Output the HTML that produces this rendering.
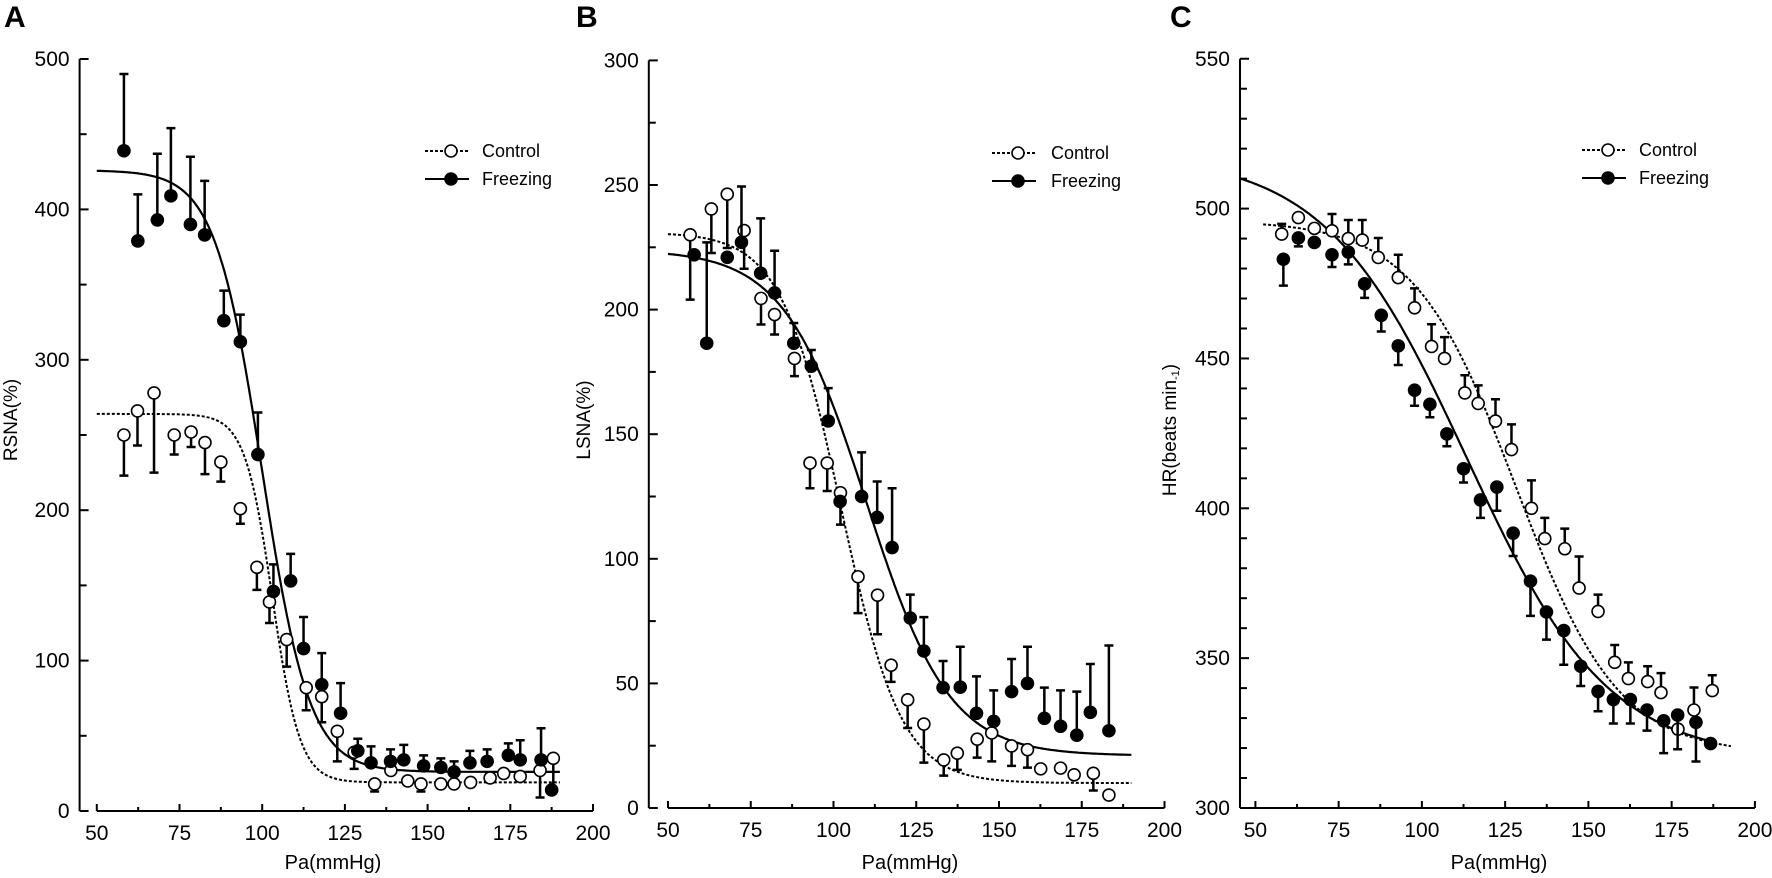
<!DOCTYPE html>
<html><head><meta charset="utf-8">
<style>
html,body{margin:0;padding:0;background:#fff;}
svg{display:block;}
text{font-family:"Liberation Sans",Arial,sans-serif;fill:#000;}
</style></head>
<body>
<svg id="fig" width="1772" height="878" viewBox="0 0 1772 878" xmlns="http://www.w3.org/2000/svg">
<text x="4" y="27" font-size="30" font-weight="bold">A</text>
<text x="576" y="27" font-size="30" font-weight="bold">B</text>
<text x="1170" y="27" font-size="30" font-weight="bold">C</text>
</svg>
<script>
// ---------- Panel A data (RSNA %) ----------
const aFrzX = [58.2,62.4,68.3,72.4,78.3,82.6,88.4,93.4,98.7,103.4,108.6,112.5,118,123.7,128.9,132.9,138.8,142.8,148.8,154,158,162.8,168,174.4,178,184.3,187.5];
const aFrzY = [439,379,393,409,390,383,326,312,237,146,153,108,84,65,40,32,33,34,30,29,26,32,33,37,34,34,14];
const aFrzErr = [490,410,437,454,435,419,346,330,265,164,171,129,105,85,48,43,41,44,37,35,33,40,41,45,47,55,null];
const aCtlX = [58.2,62.3,67.3,73.4,78.5,82.7,87.5,93.4,98.4,102.2,107.4,113.3,118,122.7,127.8,134,138.9,144,148,154,158,163,168.9,173,178,184,188];
const aCtlY = [250,266,278,250,252,245,232,201,162,139,114,82,76,53,39,18,27,20,18,18,18,19,22,25,23,27,35];
const aCtlErr = [223,243,225,237,242,224,219,191,147,125,96,67,59,33,28,13,null,null,13,null,null,null,null,null,null,9,15];
const aFrzFit = [426,26,100,0.14];   // max, min, x50, slope
const aCtlFit = [264,19,103.1,0.24];
const aYTicks = [0,100,200,300,400,500];
const aXTicks = [50,75,100,125,150,175,200];

// ---------- Panel B data (LSNA %) ----------
const bFrzX = [57.9,61.7,67.9,72.2,78,82.2,88,93.3,98.4,102,108.5,113.2,117.7,123.2,127.3,133.1,138.3,143.2,148.4,153.8,158.6,163.7,168.6,173.5,177.6,183.2];
const bFrzY = [222,186.5,221,227,214.6,206.7,186.5,177.3,155.3,123,125,116.6,104.5,76.2,63,48.3,48.5,38,34.8,46.7,50,36,32.8,29.2,38.4,31];
const bFrzErr = [null,227,null,249.4,236.6,223.6,194.6,183.8,168.5,null,142.7,131,128.3,85.6,76.6,59,64.7,52.8,47.2,59.8,64.7,48.3,47.2,46.7,57.8,65.2];
const bCtlX = [56.7,63.1,67.9,73,78.1,82.2,88.2,92.9,98.1,102.1,107.4,113.3,117.4,122.4,127.3,133.3,137.4,143.4,147.8,153.8,158.6,162.6,168.6,172.7,178.5,183.2];
const bCtlY = [230,240.4,246.3,231.7,204.5,198,180.4,138.4,138.4,126.5,92.8,85.4,57.3,43.4,33.7,19.3,22,27.6,30.1,24.9,23.4,15.7,16,13.3,13.9,5.2];
const bCtlErr = [204,222.7,224.7,216.4,194,190,173.3,128.3,127.2,113.7,78.2,69.7,50.6,32.1,18.2,13,15.3,20.2,18.7,16.9,16.2,null,null,null,7,null];
const bFrzFit = [224,21,110,0.08];
const bCtlFit = [231,10,102.3,0.11];
const bYTicks = [0,50,100,150,200,250,300];
const bXTicks = [50,75,100,125,150,175,200];

// ---------- Panel C data (HR beats/min) ----------
const cCtlX = [57.9,62.9,67.7,73,77.9,82.1,86.9,92.9,97.8,102.9,106.8,112.9,116.9,122.1,126.9,132.9,136.9,142.9,147.2,152.9,157.9,162,167.8,171.8,176.9,181.7,187.2];
const cCtlY = [491.5,497,493.4,492.6,490,489.5,483.7,477,466.9,454,450,438.5,435,429.1,419.6,400,389.9,386.5,373.4,365.6,348.6,343.2,342.2,338.5,326.3,332.7,339.2];
const cCtlErr = [494.9,null,null,498.2,496.2,496.2,490.2,484.6,473.4,461.4,457.1,444.4,441,436.4,428,409.3,396.8,393.2,383.9,371.2,354.4,348.6,347.3,345,null,340.2,344.3];
const cFrzX = [58.4,62.9,67.7,73,77.9,82.8,87.8,92.9,97.8,102.4,107.5,112.5,117.6,122.5,127.4,132.6,137.4,142.6,147.7,152.9,157.5,162.6,167.6,172.6,176.8,182.3,186.7];
const cFrzY = [483.1,490.2,488.7,484.6,485.5,474.9,464.4,454.2,439.4,434.7,424.8,413.2,402.8,407.1,391.7,375.7,365.4,359.2,347.3,338.9,336.2,336.2,332.7,329.1,331,328.6,321.5];
const cFrzErr = [474.3,487.4,null,480.5,481.4,470.2,459,447.8,434.2,430.4,420.7,408.6,396.8,399.2,384.1,364.1,356.2,347.8,340.7,332.3,328.2,328.2,325.8,318.3,319.6,315.5,null];
const cFrzFit = [518,316,113.4,0.047];
const cCtlFit = [496,318,128.3,0.065];
const cYTicks = [300,350,400,450,500,550];
const cXTicks = [50,75,100,125,150,175,200];

const NS = "http://www.w3.org/2000/svg";
const svg = document.getElementById('fig');
function mk(tag, attrs, parent){
  const e = document.createElementNS(NS, tag);
  for (const k in attrs) e.setAttribute(k, attrs[k]);
  (parent||svg).appendChild(e);
  return e;
}
function logistic(f, x){ return f[1] + (f[0]-f[1])/(1+Math.exp(f[3]*(x-f[2]))); }

function panel(p){
  const g = mk('g', {});
  
  
  const sx = v => p.x50 + (v-50)*p.kx;
  const sy = v => p.yBase - (v-p.yMin)*p.ky;
  // y axis
  const yTop = sy(p.yTicks[p.yTicks.length-1]);
  const yAx = mk('line', {x1:p.axX, y1:yTop, x2:p.axX, y2:sy(p.yMin), stroke:'#000','stroke-width':2}, g);
  
  
  for (let v=p.yMin; v<=p.yTicks[p.yTicks.length-1]+1e-6; v+=p.yMinor){
    const major = p.yTicks.some(t=>Math.abs(t-v)<1e-6);
    mk('line', {x1:p.axX, y1:sy(v), x2:p.axX+(major?9:7), y2:sy(v), stroke:'#000','stroke-width':2}, g);
  }
  p.yTicks.forEach(t=>{
    const tx = mk('text', {x:p.axX-10, y:sy(t)+7, 'font-size':21, 'text-anchor':'end'}, g);
    tx.textContent = t;
    
    
  });
  // x axis
  const xStart = p.xAxFromLeft ? p.axX : sx(p.xTicks[0]);
  const xAx = mk('line', {x1:xStart, y1:p.xAxY, x2:sx(p.xTicks[p.xTicks.length-1]), y2:p.xAxY, stroke:'#000','stroke-width':2}, g);
  
  
  p.xTicks.forEach(t=>{
    mk('line', {x1:sx(t), y1:p.xAxY, x2:sx(t), y2:p.xAxY-7, stroke:'#000','stroke-width':2}, g);
    const tx = mk('text', {x:sx(t), y:p.xAxY+29, 'font-size':21, 'text-anchor':'middle'}, g);
    tx.textContent = t;
    
    
  });
  for (let i=0;i<p.xTicks.length-1;i++){
    const m = (p.xTicks[i]+p.xTicks[i+1])/2;
    mk('line', {x1:sx(m), y1:p.xAxY, x2:sx(m), y2:p.xAxY-4, stroke:'#000','stroke-width':2}, g);
  }
  // titles
  const xt = mk('text', {x:p.xTitleX, y:869, 'font-size':20, 'text-anchor':'middle'}, g);
  xt.textContent = 'Pa(mmHg)';
  
  
  const yt = mk('text', {x:0, y:0, 'font-size':19, 'text-anchor':'middle', transform:`translate(${p.yTitleX},${p.yTitleY}) rotate(-90)`}, g);
  yt.innerHTML = p.yTitle;
  
  
  // fit curves
  function curve(f, x0, x1, dashed, nm){
    let d = '';
    for (let x=x0; x<=x1+1e-6; x+=0.5){ d += (d?'L':'M') + sx(x).toFixed(1)+','+sy(logistic(f,x)).toFixed(1); }
    const c = mk('path', {d:d, fill:'none', stroke:'#000', 'stroke-width': dashed?2:2.2, 'stroke-dasharray': dashed?'3,2':'none'}, g);
    
    
  }
  curve(p.ctlFit, p.ctlRange[0], p.ctlRange[1], true, 'control-fit-curve');
  curve(p.frzFit, p.frzRange[0], p.frzRange[1], false, 'freezing-fit-curve');
  // series
  function series(xs, ys, errs, filled, nm){
    xs.forEach((x,i)=>{
      if (errs[i]!==null && errs[i]!==undefined){
        const e = mk('path', {d:`M${sx(x)},${sy(ys[i])}V${sy(errs[i])}M${sx(x)-4.5},${sy(errs[i])}h9`, stroke:'#000','stroke-width':2.5, fill:'none'}, g);
        
        
      }
    });
    xs.forEach((x,i)=>{
      const c = mk('circle', {cx:sx(x), cy:sy(ys[i]), r:6, fill: filled?'#000':'#fff', stroke:'#000', 'stroke-width':1.6}, g);
      
      
    });
  }
  series(p.ctlX, p.ctlY, p.ctlErr, false, 'control');
  series(p.frzX, p.frzY, p.frzErr, true, 'freezing');
  // legend
  const lg = mk('g', {}, g);
  
  
  const L = p.leg;
  mk('line', {x1:L[0], y1:L[2], x2:L[0]+44, y2:L[2], stroke:'#000','stroke-width':2,'stroke-dasharray':'3,2'}, lg);
  mk('circle', {cx:L[0]+26, cy:L[2], r:6, fill:'#fff', stroke:'#000','stroke-width':1.6}, lg);
  const t1 = mk('text', {x:L[1], y:L[2]+6, 'font-size':18}, lg);
  t1.textContent = 'Control';
  
  
  mk('line', {x1:L[0], y1:L[3], x2:L[0]+44, y2:L[3], stroke:'#000','stroke-width':2}, lg);
  mk('circle', {cx:L[0]+26, cy:L[3], r:6, fill:'#000', stroke:'#000','stroke-width':1.6}, lg);
  const t2 = mk('text', {x:L[1], y:L[3]+6, 'font-size':18}, lg);
  t2.textContent = 'Freezing';
  
  
}

panel({name:'panel-a-rsna', x50:96.8, kx:3.308, yBase:811, yMin:0, ky:1.504, axX:79.6, xAxY:811, xAxFromLeft:false,
  yTicks:aYTicks, yMinor:50, xTicks:aXTicks, xTitleX:333, yTitleX:17, yTitleY:420, yTitle:'RSNA(%)',
  frzX:aFrzX, frzY:aFrzY, frzErr:aFrzErr, ctlX:aCtlX, ctlY:aCtlY, ctlErr:aCtlErr,
  frzFit:aFrzFit, ctlFit:aCtlFit, frzRange:[50,190], ctlRange:[50,190], leg:[425,482,151,179]});
panel({name:'panel-b-lsna', x50:668, kx:3.31, yBase:808, yMin:0, ky:2.492, axX:648.8, xAxY:808, xAxFromLeft:false,
  yTicks:bYTicks, yMinor:25, xTicks:bXTicks, xTitleX:910, yTitleX:590, yTitleY:420, yTitle:'LSNA(%)',
  frzX:bFrzX, frzY:bFrzY, frzErr:bFrzErr, ctlX:bCtlX, ctlY:bCtlY, ctlErr:bCtlErr,
  frzFit:bFrzFit, ctlFit:bCtlFit, frzRange:[50,190], ctlRange:[50,190], leg:[992,1051,153,181]});
panel({name:'panel-c-hr', x50:1255.4, kx:3.33, yBase:808, yMin:300, ky:2.997, axX:1240, xAxY:808, xAxFromLeft:true,
  yTicks:cYTicks, yMinor:10, xTicks:cXTicks, xTitleX:1499, yTitleX:1176, yTitleY:430, yTitle:'HR(beats min<tspan font-size="11" dy="3">-1</tspan><tspan dy="-3">)</tspan>',
  frzX:cFrzX, frzY:cFrzY, frzErr:cFrzErr, ctlX:cCtlX, ctlY:cCtlY, ctlErr:cCtlErr,
  frzFit:cFrzFit, ctlFit:cCtlFit, frzRange:[45.3,187], ctlRange:[52.3,192.8], leg:[1582,1639,150,178]});
</script>
</body></html>
